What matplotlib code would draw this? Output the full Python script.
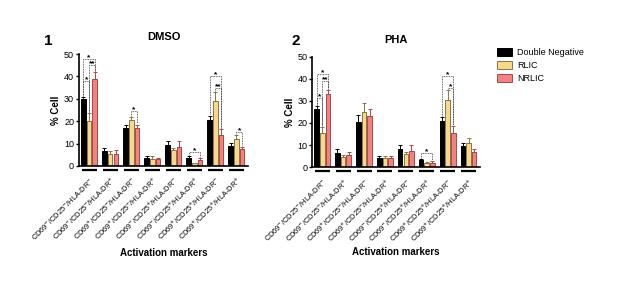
import numpy as np
import matplotlib
matplotlib.use("Agg")
import matplotlib.pyplot as plt
from matplotlib.patches import Patch

# ── Data ───────────────────────────────────────────────────────────────
markers = [
    r"CD69$^{-}$/CD25$^{-}$/HLA-DR$^{-}$",
    r"CD69$^{-}$/CD25$^{-}$/HLA-DR$^{+}$",
    r"CD69$^{+}$/CD25$^{-}$/HLA-DR$^{-}$",
    r"CD69$^{+}$/CD25$^{-}$/HLA-DR$^{+}$",
    r"CD69$^{-}$/CD25$^{+}$/HLA-DR$^{-}$",
    r"CD69$^{-}$/CD25$^{+}$/HLA-DR$^{+}$",
    r"CD69$^{+}$/CD25$^{+}$/HLA-DR$^{-}$",
    r"CD69$^{+}$/CD25$^{+}$/HLA-DR$^{+}$",
]
series = ["Double Negative", "RLIC", "NRLIC"]

dmso_dn = [30, 6.5, 17, 3.3, 9.5, 3.5, 20.5, 9]
dmso_rlic = [20, 5.5, 20.5, 3.2, 7, 1.2, 29, 12]
dmso_nrlic = [39, 5.5, 17, 3.2, 8.5, 2.8, 14, 7.5]
dmso_dn_err = [0.8, 1.5, 1.5, 1.0, 1.8, 1.0, 2.0, 1.3]
dmso_rlic_err = [3.5, 1.0, 1.5, 1.2, 1.0, 0.3, 4.0, 1.8]
dmso_nrlic_err = [3.0, 1.5, 1.5, 0.5, 2.5, 0.8, 2.5, 1.0]

pha_dn = [26.5, 6.5, 20.5, 4.2, 8, 3, 21, 9.5]
pha_rlic = [15.5, 4.5, 25, 4.2, 6, 2, 30.5, 11]
pha_nrlic = [33, 5.5, 23, 4.2, 7.5, 2, 15.5, 7]
pha_dn_err = [1.0, 1.5, 3.0, 1.0, 2.0, 0.5, 1.5, 1.5]
pha_rlic_err = [2.5, 1.0, 4.0, 1.0, 1.0, 0.5, 4.5, 2.0]
pha_nrlic_err = [2.0, 1.5, 3.5, 1.0, 2.5, 0.8, 3.0, 1.0]

# significance: (group, bar_a, bar_b, level, label)
dmso_sig = [(0, 0, 2, 48, "*"), (0, 1, 2, 45, "**"), (0, 0, 1, 38, "*"),
            (2, 1, 2, 24.5, "*"), (5, 0, 2, 6.4, "*"),
            (6, 0, 2, 40, "*"), (6, 1, 2, 35, "**"), (7, 1, 2, 15.3, "*")]
pha_sig = [(0, 0, 2, 42.3, "*"), (0, 1, 2, 39, "**"), (0, 0, 1, 31.5, "*"),
           (5, 0, 2, 6.5, "*"), (6, 0, 2, 41.3, "*"), (6, 1, 2, 36, "*")]

# ── Style ──────────────────────────────────────────────────────────────
FILL = ["#000000", "#F7D88C", "#F28282"]
EDGE = ["#000000", "#8C7440", "#A8484A"]
WIDTH = 0.22
OFFS = [-0.27, 0, 0.27]

plt.rcParams['font.family'] = ['Liberation Sans', 'DejaVu Sans']


def draw_panel(ax, vals, errs, sig, title):
    x = np.arange(len(markers))
    for k in range(3):
        ax.bar(x + OFFS[k], vals[k], WIDTH, color=FILL[k], edgecolor=EDGE[k],
               linewidth=0.7, zorder=2)
        ax.errorbar(x + OFFS[k], vals[k], yerr=[np.zeros(len(x)), errs[k]],
                    fmt='none', ecolor=EDGE[k] if k else 'k', elinewidth=0.7,
                    capsize=1.2, capthick=0.7, zorder=3)
    for g, a, b, lvl, lab in sig:
        xa, xb = g + OFFS[a], g + OFFS[b]
        ya = vals[a][g] + errs[a][g] + 0.5
        yb = vals[b][g] + errs[b][g] + 0.5
        ax.plot([xa, xa, xb, xb], [ya, lvl, lvl, yb], ls=(0, (1, 1)),
                color='#333333', lw=0.6, zorder=4)
        ax.text((xa + xb) / 2, lvl - 1.0, lab, ha='center', va='bottom',
                fontsize=6, fontweight='bold')
    # group underlines
    for g in x:
        ax.plot([g - 0.36, g + 0.36], [-0.035, -0.035], color='k', lw=1.6,
                transform=ax.get_xaxis_transform(), clip_on=False,
                solid_capstyle='butt')
    ax.set_xlim(-0.48, 7.55)
    ax.set_ylim(0, 50)
    ax.set_yticks([0, 10, 20, 30, 40, 50])
    ax.set_xticks(x)
    ax.set_xticklabels(markers, rotation=45, ha='right', rotation_mode='anchor',
                       fontsize=5.3)
    ax.tick_params(axis='x', length=0, pad=7)
    ax.tick_params(axis='y', labelsize=6.5, length=2.5, width=1, pad=1)
    ax.spines['top'].set_visible(False)
    ax.spines['right'].set_visible(False)
    ax.spines['left'].set_linewidth(1.2)
    ax.spines['bottom'].set_linewidth(1.2)
    ax.set_ylabel('% Cell', fontsize=7, fontweight='bold', labelpad=2)
    ax.set_xlabel('Activation markers', fontsize=7, fontweight='bold')
    ax.xaxis.set_label_coords(0.5, -0.73)
    ax.set_title(title, fontsize=8, fontweight='bold', pad=10)


fig = plt.figure(figsize=(6.17, 2.86), dpi=100)
ax1 = fig.add_axes([0.128, 0.420, 0.274, 0.391])
ax2 = fig.add_axes([0.506, 0.416, 0.272, 0.385])

draw_panel(ax1, [dmso_dn, dmso_rlic, dmso_nrlic],
           [dmso_dn_err, dmso_rlic_err, dmso_nrlic_err], dmso_sig, 'DMSO')
draw_panel(ax2, [pha_dn, pha_rlic, pha_nrlic],
           [pha_dn_err, pha_rlic_err, pha_nrlic_err], pha_sig, 'PHA')

fig.text(0.078, 0.855, '1', fontsize=11, fontweight='bold', ha='center', va='center')
fig.text(0.480, 0.855, '2', fontsize=11, fontweight='bold', ha='center', va='center')

handles = [Patch(facecolor=FILL[k], edgecolor=EDGE[k], linewidth=0.7)
           for k in range(3)]
fig.legend(handles, series, loc='upper left', bbox_to_anchor=(0.80, 0.845),
           frameon=False, fontsize=6.5, handlelength=1.6, handleheight=0.9,
           labelspacing=0.45, handletextpad=0.6, borderaxespad=0)

fig.savefig('out.png', dpi=100)
